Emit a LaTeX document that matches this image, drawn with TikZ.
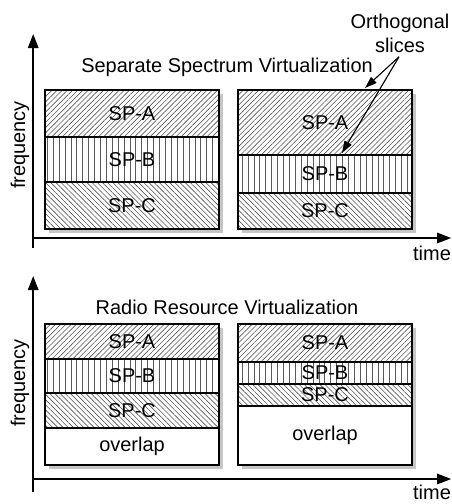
\documentclass[tikz,border=0pt]{standalone}
\usepackage{fontspec}
\setmainfont{Liberation Sans}
\usepackage{tikz}
\usetikzlibrary{positioning, arrows.meta, patterns.meta, shadows}
\definecolor{hatchgray}{RGB}{90, 90, 90}

\begin{document}
\begin{tikzpicture}[
  font=\fontsize{14.2}{17}\selectfont,
  axis/.style={line width=1.2pt, -{Triangle[length=0.35cm, width=0.26cm]}},
  pointer/.style={line width=0.8pt, -{Triangle[length=0.3cm, width=0.2cm]}},
  frame/.style={draw, line width=1.1pt, fill=white, minimum width=4.35cm, minimum height=3.475cm, inner sep=0pt,
    drop shadow={shadow xshift=3pt, shadow yshift=-3pt, opacity=0.45}},
  band/.style={draw, line width=1.1pt, minimum width=4.35cm, inner sep=0pt, pattern color=hatchgray},
  spa/.style={band, pattern={Lines[angle=45, distance=2.6pt, line width=0.45pt]}},
  spb/.style={band, pattern={Lines[angle=90, distance=4.2pt, line width=0.45pt]}},
  spc/.style={band, pattern={Lines[angle=-45, distance=2.6pt, line width=0.45pt]}},
  free/.style={band, fill=white}
]
    \useasboundingbox (0,0) rectangle (11.3,12.6);

    % separate spectrum
    \coordinate (yb1) at (0.83, 6.4);
    \coordinate (yt1) at (0.83, 11.75);
    \coordinate (xl1) at (0.83, 6.65);
    \coordinate (xr1) at (11.28, 6.65);
    \draw[axis] (yb1) -- (yt1);
    \draw[axis] (xl1) -- (xr1);
    \node (freq1) at (0.5, 8.975) [rotate=90] {frequency};
    \node (time1) at (10.8, 6.275) {time};
    \node (sep) at (5.675, 10.925) {Separate Spectrum Virtualization};

    \node (boxL1) at (3.3, 8.6125) [frame] {};
    \node (boxR1) at (8.125, 8.6125) [frame] {};
    \node (aL1) at (3.3, 9.7625) [spa, minimum height=1.175cm] {SP-A};
    \node (bL1) at (3.3, 8.6125) [spb, minimum height=1.125cm] {SP-B};
    \node (cL1) at (3.3, 7.4625) [spc, minimum height=1.175cm] {SP-C};
    \node (aR1) at (8.125, 9.5375) [spa, minimum height=1.625cm] {SP-A};
    \node (bR1) at (8.125, 8.25) [spb, minimum height=0.95cm] {SP-B};
    \node (cR1) at (8.125, 7.325) [spc, minimum height=0.9cm] {SP-C};

    \node (orth) at (10.0, 11.775) [align=center] {Orthogonal\\slices};
    \coordinate (os) at (9.975, 11.18);
    \coordinate (tipA) at (9.125, 10.4);
    \coordinate (tipB) at (8.55, 8.775);
    \draw[pointer] (os) -- (tipA);
    \draw[pointer] (os) -- (tipB);

    % radio resource
    \coordinate (yb2) at (0.83, 0.3);
    \coordinate (yt2) at (0.83, 5.7);
    \coordinate (xl2) at (0.83, 0.625);
    \coordinate (xr2) at (11.28, 0.625);
    \draw[axis] (yb2) -- (yt2);
    \draw[axis] (xl2) -- (xr2);
    \node (freq2) at (0.5, 3.025) [rotate=90] {frequency};
    \node (time2) at (10.8, 0.3) {time};
    \node (rrv) at (5.675, 4.925) {Radio Resource Virtualization};

    \node (boxL2) at (3.3, 2.7375) [frame, minimum height=3.525cm] {};
    \node (boxR2) at (8.125, 2.7375) [frame, minimum height=3.525cm] {};
    \node (aL2) at (3.3, 4.0625) [spa, minimum height=0.875cm] {SP-A};
    \node (bL2) at (3.3, 3.2) [spb, minimum height=0.85cm] {SP-B};
    \node (cL2) at (3.3, 2.3375) [spc, minimum height=0.875cm] {SP-C};
    \node (oL2) at (3.3, 1.4375) [free, minimum height=0.925cm] {overlap};
    \node (aR2) at (8.125, 4.025) [spa, minimum height=0.95cm] {SP-A};
    \node (bR2) at (8.125, 3.275) [spb, minimum height=0.55cm] {SP-B};
    \node (cR2) at (8.125, 2.725) [spc, minimum height=0.55cm] {SP-C};
    \node (oR2) at (8.125, 1.7125) [free, minimum height=1.475cm] {overlap};
\end{tikzpicture}
\end{document}
